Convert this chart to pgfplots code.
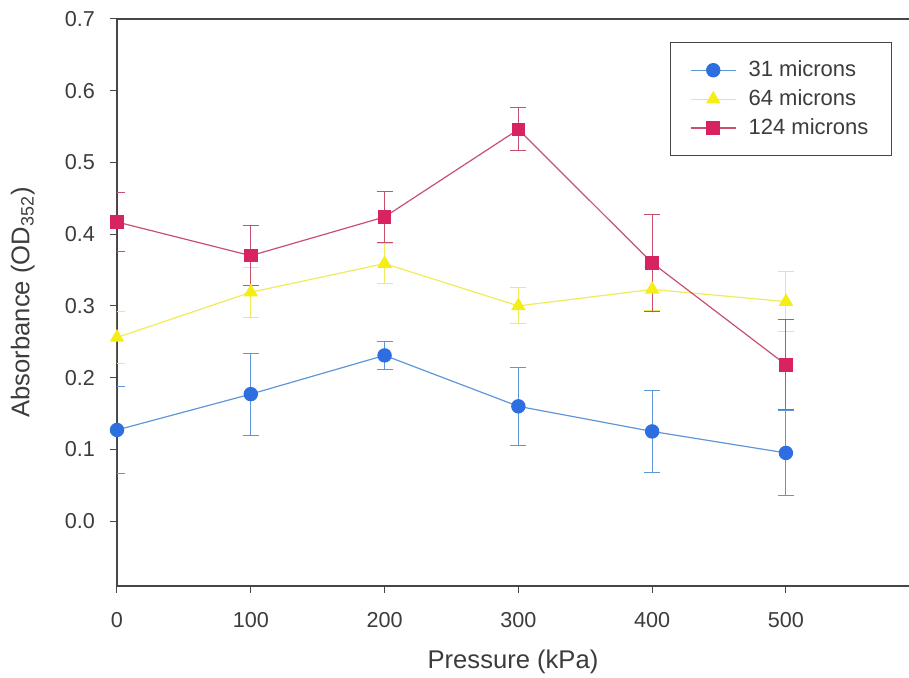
\documentclass[border=0pt]{standalone}
\usepackage{pgfplots}
\pgfplotsset{compat=1.18}
\usepackage{fontspec}
\setmainfont{Liberation Sans}
\definecolor{bluemark}{RGB}{45,110,225}
\definecolor{blueline}{RGB}{95,150,215}
\definecolor{yelmark}{RGB}{245,238,20}
\definecolor{yelline}{RGB}{240,235,90}
\definecolor{redmark}{RGB}{215,35,95}
\definecolor{redline}{RGB}{200,80,110}
\definecolor{axgray}{RGB}{70,70,70}
\definecolor{txtgray}{RGB}{60,60,60}
\begin{document}
\begin{tikzpicture}
\begin{axis}[
  scale only axis,
  width=396pt, height=283.5pt,
  xmin=0, xmax=592, ymin=-0.0905, ymax=0.7,
  axis x line*=box, axis y line*=left,
  axis line style={axgray, line width=0.6pt},
  xtick={0,100,200,300,400,500},
  ytick={0,0.1,0.2,0.3,0.4,0.5,0.6,0.7},
  xtick pos=bottom, ytick pos=left,
  tick align=outside,
  major tick length=3.5pt,
  tick style={axgray, line width=0.5pt},
  /pgf/number format/assume math mode=true,
  ticklabel style={font=\fontsize{10.8}{12}\selectfont, text=txtgray},
  yticklabel style={/pgf/number format/.cd, fixed, fixed zerofill, precision=1, /tikz/.cd, xshift=-4pt},
  xticklabel style={yshift=-6pt},
  xlabel={Pressure (kPa)},
  ylabel={Absorbance (OD\textsubscript{352})},
  label style={font=\fontsize{12.8}{14}\selectfont, text=txtgray},
  xlabel style={at={(axis description cs:0.5,-0.134)}, anchor=center},
  ylabel style={at={(axis description cs:-0.119,0.5)}, anchor=center},
  legend style={at={(0.9785,0.959)}, anchor=north east, draw=axgray, line width=0.5pt,
    font=\fontsize{11}{13}\selectfont, text=txtgray, inner xsep=9.5pt, inner ysep=7pt,
    row sep=1pt, column sep=4pt, cells={anchor=west}},
  legend image code/.code={\draw[mark repeat=2,mark phase=2] plot coordinates {(0cm,0cm)(0.4cm,0cm)(0.8cm,0cm)};},
  error bars/y dir=both, error bars/y explicit,
]
\addplot[blueline, line width=0.6pt, mark=*, mark size=3.3pt, mark options={fill=bluemark, draw=bluemark},
  error bars/error bar style={blueline, line width=0.5pt},
  error bars/error mark options={blueline, rotate=90, mark size=4pt, line width=0.5pt}]
  coordinates {(0,0.127) +- (0,0.060) (100,0.177) +- (0,0.057) (200,0.231) +- (0,0.019)
               (300,0.160) +- (0,0.054) (400,0.125) +- (0,0.057) (500,0.095) +- (0,0.059)};
\addlegendentry{31 microns}
\addplot[yelline, line width=0.6pt, mark=triangle*, mark size=3.6pt, mark options={fill=yelmark, draw=yelmark},
  error bars/error bar style={yelline, line width=0.5pt},
  error bars/error mark options={yelline, rotate=90, mark size=4pt, line width=0.5pt}]
  coordinates {(0,0.256) +- (0,0.036) (100,0.319) +- (0,0.035) (200,0.359) +- (0,0.028)
               (300,0.300) +- (0,0.025) (400,0.323) +- (0,0.030) (500,0.306) +- (0,0.042)};
\addlegendentry{64 microns}
\addplot[redline, line width=0.6pt, mark=square*, mark size=3.1pt, mark options={fill=redmark, draw=redmark},
  error bars/error bar style={redline, line width=0.5pt},
  error bars/error mark options={redline, rotate=90, mark size=4pt, line width=0.5pt}]
  coordinates {(0,0.417) +- (0,0.041) (100,0.370) +- (0,0.042) (200,0.424) +- (0,0.036)
               (300,0.546) +- (0,0.030) (400,0.360) +- (0,0.068) (500,0.218) +- (0,0.063)};
\addlegendentry{124 microns}
\end{axis}
\pgfresetboundingbox
\path ([xshift=-58.5pt,yshift=9.5pt]current axis.north west) rectangle ([yshift=-46pt]current axis.south east);
\end{tikzpicture}
\end{document}
